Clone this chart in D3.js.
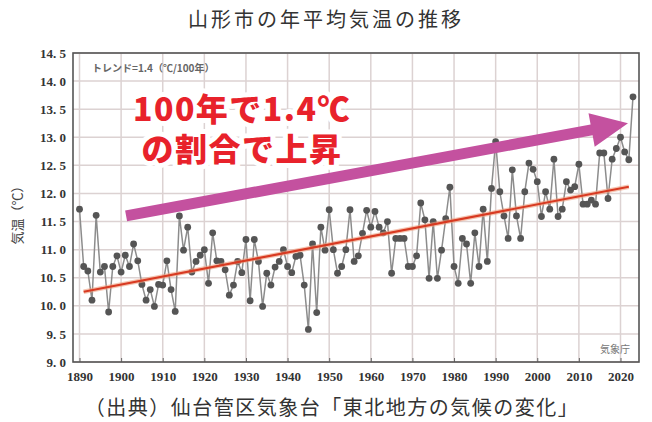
<!DOCTYPE html>
<html>
<head>
<meta charset="utf-8">
<script src="https://cdn.jsdelivr.net/npm/d3@7"></script>
<style>
  body { margin: 0; background: #fff; }
  svg { display: block; }
</style>
</head>
<body>
<div class="graph"></div>
<script>
// Annual mean temperature, Yamagata
const firstYear = 1890;
const temps = [
  11.72, 10.70, 10.62, 10.10, 11.61, 10.60, 10.70, 9.89, 10.70, 10.89,
  10.60, 10.90, 10.70, 11.10, 10.80, 10.38, 10.10, 10.29, 9.99, 10.38,
  10.37, 10.80, 10.29, 9.90, 11.60, 10.99, 11.40, 10.60, 10.79, 10.90,
  11.00, 10.40, 11.30, 10.80, 10.79, 10.64, 10.19, 10.37, 10.79, 10.59,
  11.18, 10.09, 11.18, 10.79, 9.99, 10.58, 10.37, 10.69, 10.79, 11.00,
  10.70, 10.59, 10.88, 10.90, 10.37, 9.58, 11.10, 9.88, 11.40, 10.99,
  11.71, 11.00, 10.58, 10.70, 11.00, 11.71, 10.79, 10.89, 11.29, 11.70,
  11.40, 11.68, 11.40, 11.30, 11.50, 10.58, 11.20, 11.20, 11.20, 10.70,
  10.70, 10.89, 11.83, 11.53, 10.49, 11.50, 10.49, 10.99, 11.55, 12.11,
  10.70, 10.40, 11.20, 11.10, 10.40, 11.30, 10.70, 11.72, 10.79, 12.09,
  12.92, 12.03, 11.60, 11.20, 12.42, 11.60, 11.20, 12.03, 12.54, 12.43,
  12.21, 11.59, 12.03, 11.72, 12.61, 11.59, 11.72, 12.21, 12.06, 12.12,
  12.52, 11.81, 11.81, 11.88, 11.81, 12.72, 12.72, 11.91, 12.61, 12.80,
  13.00, 12.74, 12.60, 13.72
];
const years = temps.map((t, i) => firstYear + i);

// trend line end points (1.4 C / 100 yr)
const trendYears = [1891, 2022];
const trendValues = [10.25, 12.12];

// big arrow, in data units
const arrowYears = [1901.2, 2021.8];
const arrowValues = [11.60, 13.25];

const xTicks = d3.range(1890, 2021, 10);
const yTicks = d3.range(9, 14.51, 0.5);

const titleText = "山形市の年平均気温の推移";
const sourceText = "（出典）仙台管区気象台「東北地方の気候の変化」";
const noteLines = ["100年で1.4℃", "の割合で上昇"];

const dims = {
  width: 652,
  height: 422,
  frame: { left: 73, right: 639, top: 53, bottom: 362 }
};

const svg = d3.select(".graph")
  .append("svg")
    .attr("width", dims.width)
    .attr("height", dims.height);

const xScale = d3.scaleLinear().domain([1890, 2020]).range([79.5, 620.5]);
const yScale = d3.scaleLinear().domain([9, 14.5]).range([dims.frame.bottom, dims.frame.top]);

// title
svg.append("text")
  .attr("x", 326).attr("y", 27)
  .attr("text-anchor", "middle")
  .attr("font-family", "Noto Sans CJK JP")
  .attr("font-size", 20)
  .attr("letter-spacing", 3)
  .attr("fill", "#333")
  .text(titleText);

// grid
const grid = svg.append("g");
grid.selectAll(".gy")
  .data(yTicks)
  .join("line")
    .attr("x1", dims.frame.left).attr("x2", dims.frame.right)
    .attr("y1", d => yScale(d)).attr("y2", d => yScale(d))
    .attr("stroke", "#dcd2d2").attr("stroke-width", 1.5);
grid.selectAll(".gx")
  .data(xTicks)
  .join("line")
    .attr("x1", d => xScale(d)).attr("x2", d => xScale(d))
    .attr("y1", dims.frame.top).attr("y2", dims.frame.bottom)
    .attr("stroke", "#dcd2d2").attr("stroke-width", 1.5);

// axes (labels only, ticks drawn inward)
const yAxis = svg.append("g")
  .attr("transform", `translate(${dims.frame.left},0)`)
  .call(d3.axisLeft(yScale).tickValues(yTicks).tickSize(0).tickPadding(7)
    .tickFormat(d => d3.format(".1f")(d).replace(".", ". ")));
yAxis.select(".domain").remove();
yAxis.selectAll("text")
  .attr("font-family", "Liberation Sans Narrow")
  .attr("font-weight", "bold")
  .attr("font-size", 13)
  .attr("fill", "#333");

const xAxis = svg.append("g")
  .attr("transform", `translate(0,${dims.frame.bottom})`)
  .call(d3.axisBottom(xScale).tickValues(xTicks).tickSize(-4).tickPadding(10)
    .tickFormat(d3.format("d")));
xAxis.select(".domain").remove();
xAxis.selectAll("line").attr("stroke", "#666");
xAxis.selectAll("text")
  .attr("font-family", "Liberation Sans Narrow")
  .attr("font-weight", "bold")
  .attr("font-size", 13)
  .attr("fill", "#333");

// frame
svg.append("rect")
  .attr("x", dims.frame.left).attr("y", dims.frame.top)
  .attr("width", dims.frame.right - dims.frame.left)
  .attr("height", dims.frame.bottom - dims.frame.top)
  .attr("fill", "none")
  .attr("stroke", "#555").attr("stroke-width", 1.6);

// y axis title
svg.append("text")
  .attr("transform", "translate(22,212) rotate(-90)")
  .attr("text-anchor", "middle")
  .attr("font-family", "Noto Sans CJK JP")
  .attr("font-size", 13)
  .attr("fill", "#444")
  .text("気温（℃）");

// small notes inside the frame
svg.append("text")
  .attr("x", 92).attr("y", 72)
  .attr("font-family", "Noto Sans CJK JP")
  .attr("font-weight", "bold")
  .attr("font-size", 10)
  .attr("fill", "#666")
  .text("トレンド=1.4（℃/100年）");
svg.append("text")
  .attr("x", 630).attr("y", 353)
  .attr("text-anchor", "end")
  .attr("font-family", "Noto Sans CJK JP")
  .attr("font-size", 10)
  .attr("fill", "#777")
  .text("気象庁");

// temperature series
const series = years.map((y, i) => ({ year: y, value: temps[i] }));
const lineGen = d3.line()
  .x(d => xScale(d.year))
  .y(d => yScale(d.value));
svg.append("path")
  .attr("d", lineGen(series))
  .attr("fill", "none")
  .attr("stroke", "#8c8c8c")
  .attr("stroke-width", 1.5);
svg.append("g")
  .selectAll("circle")
  .data(series)
  .join("circle")
    .attr("cx", d => xScale(d.year))
    .attr("cy", d => yScale(d.value))
    .attr("r", 3.4)
    .attr("fill", "#555");

// trend line
svg.append("line")
  .attr("x1", xScale(trendYears[0])).attr("y1", yScale(trendValues[0]))
  .attr("x2", xScale(trendYears[1])).attr("y2", yScale(trendValues[1]))
  .attr("stroke", "#f0a080").attr("stroke-width", 4.5).attr("opacity", 0.6);
svg.append("line")
  .attr("x1", xScale(trendYears[0])).attr("y1", yScale(trendValues[0]))
  .attr("x2", xScale(trendYears[1])).attr("y2", yScale(trendValues[1]))
  .attr("stroke", "#d83a22").attr("stroke-width", 2.2);

// the big arrow
const ax0 = xScale(arrowYears[0]), ay0 = yScale(arrowValues[0]);
const ax1 = xScale(arrowYears[1]), ay1 = yScale(arrowValues[1]);
const len = Math.hypot(ax1 - ax0, ay1 - ay0);
const ang = Math.atan2(ay1 - ay0, ax1 - ax0) * 180 / Math.PI;
const shaftHalf = 5.5, headLen = 37, headHalf = 17;
svg.append("path")
  .attr("transform", `translate(${ax0},${ay0}) rotate(${ang})`)
  .attr("d", `M0,${-shaftHalf} L${len - headLen},${-shaftHalf} L${len - headLen},${-headHalf}
              L${len},0 L${len - headLen},${headHalf} L${len - headLen},${shaftHalf} L0,${shaftHalf} Z`)
  .attr("fill", "#c4519f");

// red message with white halo (one text, two lines)
const note = svg.append("text")
  .attr("text-anchor", "middle")
  .attr("font-family", "Noto Sans CJK JP")
  .attr("font-weight", 900)
  .attr("font-size", 32)
  .attr("letter-spacing", 1.5)
  .attr("fill", "#e8222b")
  .attr("stroke", "#fff")
  .attr("stroke-width", 10)
  .attr("stroke-linejoin", "round")
  .attr("paint-order", "stroke");
note.selectAll("tspan")
  .data(noteLines)
  .join("tspan")
    .attr("x", 242)
    .attr("y", (d, i) => 121 + i * 40)
    .text(d => d);

// source
svg.append("text")
  .attr("x", 332).attr("y", 415)
  .attr("text-anchor", "middle")
  .attr("font-family", "Noto Sans CJK JP")
  .attr("font-size", 20)
  .attr("letter-spacing", 1.5)
  .attr("fill", "#333")
  .text(sourceText);
</script>
</body>
</html>
